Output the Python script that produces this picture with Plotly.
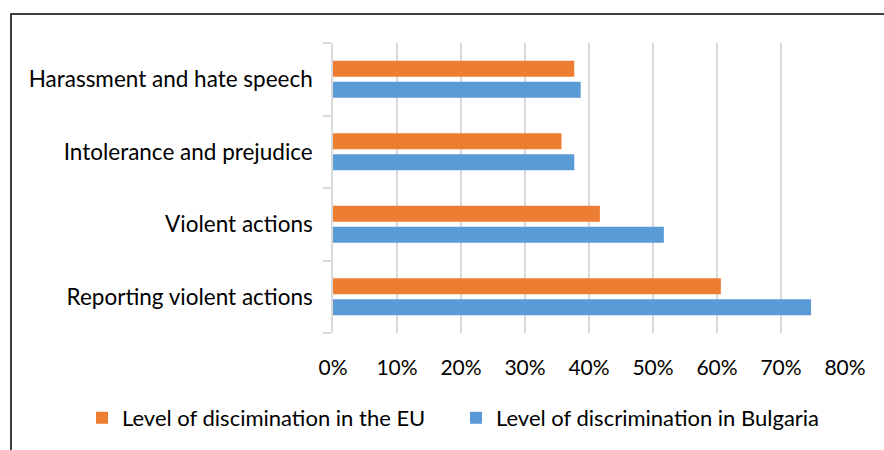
import plotly.graph_objects as go

categories = ["Reporting violent actions", "Violent actions",
              "Intolerance and prejudice", "Harassment and hate speech"]
bulgaria = [0.747, 0.517, 0.377, 0.387]
eu = [0.606, 0.417, 0.357, 0.377]
tick_vals = [0, 0.1, 0.2, 0.3, 0.4, 0.5, 0.6, 0.7, 0.8]
tick_text = ["0%", "10%", "20%", "30%", "40%", "50%", "60%", "70%", "80%"]

FONT = "Lato"

fig = go.Figure()
fig.add_trace(go.Bar(y=categories, x=bulgaria, orientation="h",
                     name="Level of discrimination in Bulgaria",
                     marker=dict(color="#5B9BD5", line=dict(width=0))))
fig.add_trace(go.Bar(y=categories, x=eu, orientation="h",
                     name="Level of discimination in the EU",
                     marker=dict(color="#ED7D31", line=dict(width=0))))

fig.update_layout(
    width=884, height=450,
    margin=dict(l=333, r=39, t=43, b=117, autoexpand=False),
    paper_bgcolor="white", plot_bgcolor="white",
    barmode="group", bargap=0.42, bargroupgap=0.24,
    font=dict(family=FONT, size=22, color="#000000"),
    showlegend=True,
    legend=dict(orientation="h", traceorder="reversed",
                x=(82 - 333) / 512, xanchor="left", y=-0.293, yanchor="middle",
                font=dict(family=FONT, size=22, color="#000000"),
                entrywidth=329, entrywidthmode="pixels",
                itemwidth=30),
    xaxis=dict(range=[0, 0.8], tickvals=tick_vals, ticktext=tick_text,
               showgrid=True, gridcolor="#d9d9d9", gridwidth=1.5,
               zeroline=False, showline=False, ticks="",
               tickfont=dict(size=21),
               ticklabelstandoff=20, fixedrange=True),
    yaxis=dict(showline=True, linecolor="#d9d9d9", linewidth=1.5,
               ticks="outside", tickson="boundaries", ticklen=8,
               tickcolor="#d9d9d9", tickwidth=1.5,
               tickfont=dict(size=22.5),
               ticklabelstandoff=14, showgrid=False),
    shapes=[dict(type="rect", xref="paper", yref="paper",
                 x0=(11 - 333) / 512, x1=(900 - 333) / 512,
                 y0=(333 - 470) / 290, y1=(333 - 14) / 290,
                 line=dict(color="black", width=1.5), layer="below")],
)

fig.write_html("out.html")
